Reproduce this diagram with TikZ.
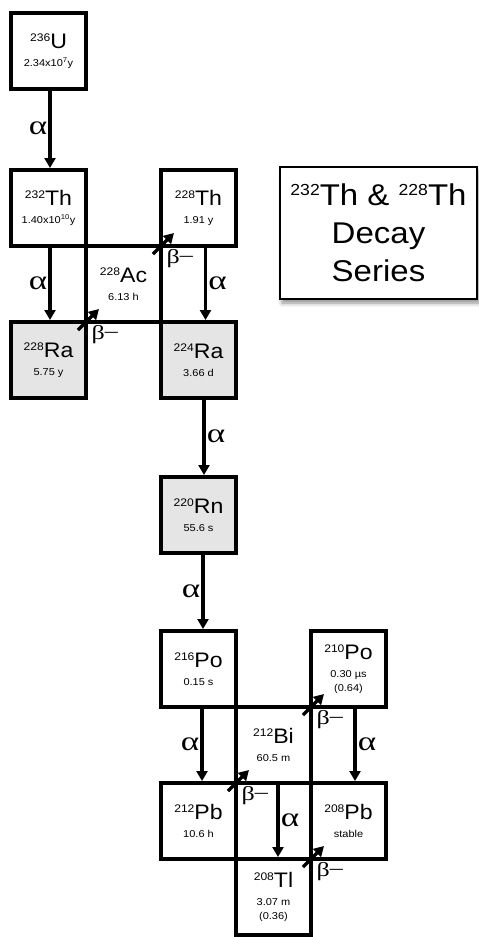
\documentclass[tikz,border=0pt]{standalone}
\usepackage{fontspec}
\setmainfont{Liberation Sans}[FakeStretch=1.1]
\newfontfamily\grk{Liberation Serif}[FakeStretch=1.3]
\usepackage{tikz}
\usetikzlibrary{arrows.meta, positioning, shadows.blur}
% mass number and half-life
\newcommand{\iso}[2][11]{\raisebox{0.34em}{\fontsize{#1}{#1}\selectfont #2}}
\newcommand{\halflife}[1]{{\fontsize{10}{14}\selectfont #1}}
\tikzset{
	nucbox/.style={rectangle, draw=black, line width=4pt, fill=white,
		minimum width=75pt, minimum height=76pt, inner sep=0pt, outer sep=0pt,
		align=center, font=\fontsize{21}{18}\selectfont},
	grbox/.style={nucbox, fill=black!10},
	legendbox/.style={rectangle, draw=black, line width=2pt, fill=white,
		minimum width=197pt, minimum height=132pt, align=center,
		font=\fontsize{30}{38}\selectfont,
		blur shadow={shadow xshift=2pt, shadow yshift=-4pt, shadow blur radius=4pt, shadow opacity=45}},
	decay/.style={line width=3.5pt, -{Triangle[length=10pt, width=11pt]}},
	alab/.style={font=\grk\fontsize{27}{27}\selectfont, inner sep=1pt},
	blab/.style={font=\grk\fontsize{20}{20}\selectfont, inner sep=2pt, pos=0.38,
		anchor=north west, xshift=2pt},
}

\begin{document}
\begin{tikzpicture}[x=1pt, y=1pt]
	\useasboundingbox (0,0) rectangle (479,-937);
	% thorium part
	\node[nucbox] (u236) at (48.5,-51) {\iso{236}U\\\halflife{2.34x10\textsuperscript{7}y}};
	\node[nucbox, below=81pt of u236] (th232) {\iso{232}Th\\\halflife{1.40x10\textsuperscript{10}y}};
	\node[nucbox, below right=0pt of th232] (ac228) {\iso{228}Ac\\\halflife{6.13 h}};
	\node[nucbox, above right=0pt of ac228] (th228) {\iso{228}Th\\\halflife{1.91 y}};
	\node[grbox, below left=0pt of ac228] (ra228) {\iso{228}Ra\\\halflife{5.75 y}};
	\node[grbox, below right=0pt of ac228] (ra224) {\iso{224}Ra\\\halflife{3.66 d}};
	\node[grbox, below=79pt of ra224] (rn220) {\iso{220}Rn\\\halflife{55.6 s}};
	% lead part
	\node[nucbox, below=78pt of rn220] (po216) {\iso{216}Po\\\halflife{0.15 s}};
	\node[nucbox, below right=0pt of po216] (bi212) {\iso{212}Bi\\\halflife{60.5 m}};
	\node[nucbox, above right=0pt of bi212] (po210) {\iso{210}Po\\\halflife{0.30 µs}\\[-4.5pt]\halflife{(0.64)}};
	\node[nucbox, below left=0pt of bi212] (pb212) {\iso{212}Pb\\\halflife{10.6 h}};
	\node[nucbox, below right=0pt of bi212] (pb208) {\iso{208}Pb\\\halflife{stable}};
	\node[nucbox, below=76pt of bi212] (tl208) {\iso{208}Tl\\\halflife{3.07 m}\\[-4.5pt]\halflife{(0.36)}};
	% title
	\node[legendbox, anchor=north west] (title) at ([xshift=43pt, yshift=4pt]th228.north east)
		{\iso[16]{232}Th \& \iso[16]{228}Th\\Decay\\Series};
	% alpha decays
	\draw[decay] ([xshift=1.5pt]u236.south) -- node[alab, left]{α} ([xshift=1.5pt, yshift=2pt]th232.north);
	\draw[decay] ([xshift=1.5pt]th232.south) -- node[alab, left]{α} ([xshift=1.5pt, yshift=2pt]ra228.north);
	\draw[decay] ([xshift=7pt]th228.south) -- node[alab, right]{α} ([xshift=7pt, yshift=2pt]ra224.north);
	\draw[decay] ([xshift=5.5pt]ra224.south) -- node[alab, right]{α} ([xshift=5.5pt, yshift=2pt]rn220.north);
	\draw[decay] ([xshift=4.5pt]rn220.south) -- node[alab, left]{α} ([xshift=4.5pt, yshift=2pt]po216.north);
	\draw[decay] ([xshift=3.5pt]po216.south) -- node[alab, left]{α} ([xshift=3.5pt, yshift=2pt]pb212.north);
	\draw[decay] ([xshift=6.5pt]po210.south) -- node[alab, right]{α} ([xshift=6.5pt, yshift=2pt]pb208.north);
	\draw[decay] ([xshift=4.5pt]bi212.south) -- node[alab, right]{α} ([xshift=4.5pt, yshift=2pt]tl208.north);
	% beta decays
	\draw[decay] ([shift={(-8pt,-8pt)}]ra228.north east) -- node[blab]{β\raisebox{2pt}{–}} ([shift={(13pt,13pt)}]ac228.south west);
	\draw[decay] ([shift={(-8pt,-8pt)}]ac228.north east) -- node[blab]{β\raisebox{2pt}{–}} ([shift={(13pt,13pt)}]th228.south west);
	\draw[decay] ([shift={(-8pt,-8pt)}]pb212.north east) -- node[blab]{β\raisebox{2pt}{–}} ([shift={(13pt,13pt)}]bi212.south west);
	\draw[decay] ([shift={(-8pt,-8pt)}]bi212.north east) -- node[blab]{β\raisebox{2pt}{–}} ([shift={(13pt,13pt)}]po210.south west);
	\draw[decay] ([shift={(-8pt,-8pt)}]tl208.north east) -- node[blab]{β\raisebox{2pt}{–}} ([shift={(13pt,13pt)}]pb208.south west);
\end{tikzpicture}
\end{document}
